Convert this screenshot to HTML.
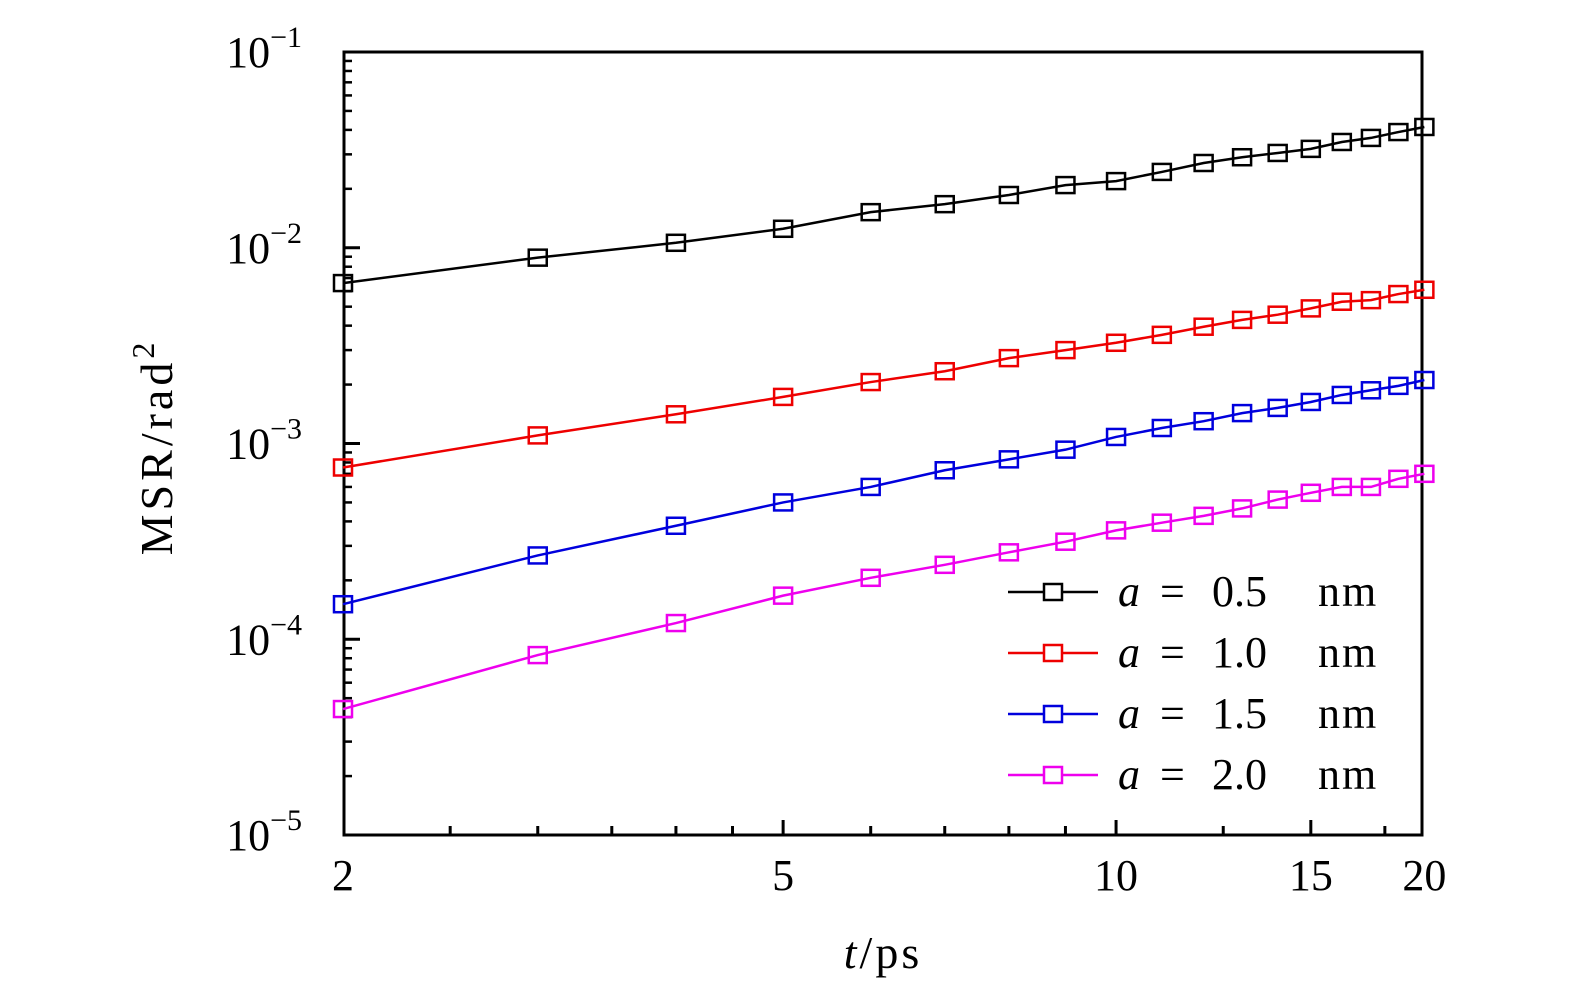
<!DOCTYPE html>
<html><head><meta charset="utf-8"><style>
html,body{margin:0;padding:0;background:#fff;}
svg text{font-family:"Liberation Serif","DejaVu Serif",serif;fill:#000;}
</style></head><body>
<svg id="chart" width="1575" height="994" viewBox="0 0 1575 994" xmlns="http://www.w3.org/2000/svg">
<g id="ticks"></g>
<rect x="344" y="52" width="1078" height="783" fill="none" stroke="#000" stroke-width="3"/>
<g id="series"></g>
<g id="labels"></g>
<g id="legend"></g>
<text x="883" y="968" font-size="46" letter-spacing="3" text-anchor="middle"><tspan font-style="italic">t</tspan>/ps</text>
<text transform="translate(172,447) rotate(-90)" font-size="46" letter-spacing="4" text-anchor="middle">MSR/rad<tspan font-size="32" dy="-18">2</tspan></text>
</svg>
<script>
const times = [2,3,4,5,6,7,8,9,10,11,12,13,14,15,16,17,18,19];
const seriesNames = ["a = 0.5 nm","a = 1.0 nm","a = 1.5 nm","a = 2.0 nm"];
const seriesColors = ["#000000","#ee0000","#0000dd","#ee00ee"];
const msr05 = [0.0066,0.0089,0.0106,0.0125,0.0152,0.0167,0.0186,0.0209,0.0219,0.0244,0.0271,0.029,0.0305,0.032,0.0347,0.0364,0.039,0.0414];
const msr10 = [0.000754,0.0011,0.00141,0.00173,0.00206,0.00234,0.00273,0.003,0.00327,0.00359,0.00395,0.00428,0.00455,0.0049,0.0053,0.0054,0.0058,0.0061];
const msr15 = [0.000151,0.000268,0.00038,0.0005,0.0006,0.00073,0.00083,0.00093,0.00108,0.0012,0.0013,0.00143,0.00152,0.00163,0.00177,0.00187,0.00197,0.00211];
const msr20 = [0.000044,0.000083,0.000121,0.000167,0.000206,0.00024,0.000278,0.000315,0.00036,0.000394,0.000427,0.000466,0.000517,0.00056,0.0006,0.0006,0.00066,0.0007];
const xTickLabels = ["2","5","10","15","20"];
const xTickValues = [2,5,10,15,19];
const xMinorValues = [2.5,3,3.5,4,4.5,6,7,8,9,12.5,17.5];
const yDecades = [-5,-4,-3,-2,-1];

const NS="http://www.w3.org/2000/svg";
const xS = t => 343 + 1106*Math.log10(t/2);
const yS = v => 52 + (-1 - Math.log10(v))*195.75;
function mk(tag, attrs, parent){const e=document.createElementNS(NS,tag);for(const k in attrs)e.setAttribute(k,attrs[k]);parent.appendChild(e);return e;}
const tk=document.getElementById('ticks'), lb=document.getElementById('labels');
xTickValues.forEach((t,i)=>{
  const x=xS(t);
  if(i>0&&i<xTickValues.length-1){const l=mk('line',{x1:x,x2:x,y1:835,y2:820,stroke:'#000','stroke-width':3},tk);
  
  }
  const tx=mk('text',{x:x,y:890,'font-size':44,'text-anchor':'middle'},lb);tx.textContent=xTickLabels[i];
  
  
});
xMinorValues.forEach(t=>{const x=xS(t);const l=mk('line',{x1:x,x2:x,y1:835,y2:826,stroke:'#000','stroke-width':3},tk);
  
  });
yDecades.forEach(d=>{
  const y=yS(Math.pow(10,d));
  const l=mk('line',{x1:344,x2:360,y1:y,y2:y,stroke:'#000','stroke-width':3},tk);
  
  
  const tx=mk('text',{x:302,y:y+15,'font-size':44,'text-anchor':'end'},lb);
  tx.innerHTML='10<tspan font-size="30" dy="-20">\u2212'+(-d)+'</tspan>';
  
  
  if(d<-1){for(let m=2;m<=9;m++){const ym=yS(m*Math.pow(10,d));const ml=mk('line',{x1:344,x2:352,y1:ym,y2:ym,stroke:'#000','stroke-width':2.5},tk);
    
    }}
});
const sg=document.getElementById('series'), lg=document.getElementById('legend');
[msr05,msr10,msr15,msr20].forEach((vals,s)=>{
  const c=seriesColors[s];
  const g=mk('g',{},sg);
  
  
  const pts=vals.map((v,i)=>xS(times[i])+','+yS(v)).join(' ');
  const pl=mk('polyline',{points:pts,fill:'none',stroke:c,'stroke-width':2.5},g);
  
  
  vals.forEach((v,i)=>{const r=mk('rect',{x:xS(times[i])-9,y:yS(v)-8,width:18,height:16,fill:'none',stroke:c,'stroke-width':2.5},g);
    
    });
  const ly=592+61*s;
  const e=mk('g',{},lg);
  
  
  mk('line',{x1:1008,x2:1098,y1:ly,y2:ly,stroke:c,'stroke-width':2.5},e);
  mk('rect',{x:1044,y:ly-8,width:18,height:16,fill:'#fff',stroke:c,'stroke-width':2.5},e);
  const parts=seriesNames[s].split(' ');
  const t=mk('text',{x:1118,y:ly+14,'font-size':44},e);
  t.innerHTML='<tspan font-style="italic">'+parts[0]+'</tspan><tspan x="1160">=</tspan><tspan x="1212">'+parts[2]+'</tspan><tspan x="1318" letter-spacing="2">'+parts[3]+'</tspan>';
});
</script>
</body></html>
